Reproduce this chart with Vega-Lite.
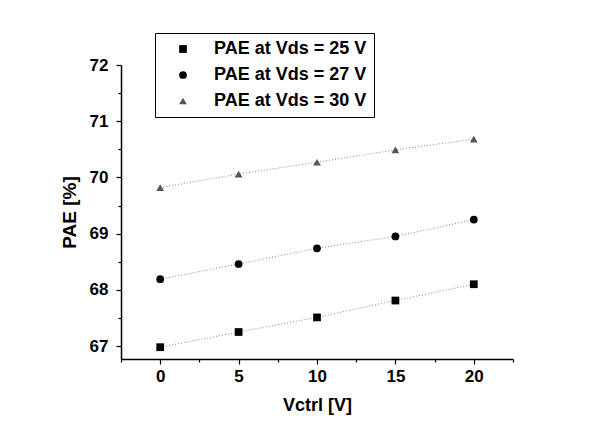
{
  "$schema": "https://vega.github.io/schema/vega-lite/v6.json",
  "width": 392,
  "height": 294,
  "autosize": {"type": "none"},
  "padding": {"left": 121, "top": 65, "right": 86, "bottom": 71},
  "background": "white",
  "config": {
    "view": {"stroke": null},
    "font": "Liberation Sans",
    "legend": {
      "title": null,
      "orient": "none",
      "legendX": 34,
      "legendY": -32,
      "strokeColor": "black",
      "padding": 7,
      "rowPadding": 8,
      "symbolSize": 60,
      "symbolOffset": 12,
      "labelOffset": 22,
      "labelFontSize": 18,
      "labelFontWeight": "bold",
      "labelColor": "black",
      "labelLimit": 300
    }
  },
  "data": {
    "values": [
      {"v": 0, "pae": 66.98, "s": "PAE at Vds = 25 V"},
      {"v": 5, "pae": 67.25, "s": "PAE at Vds = 25 V"},
      {"v": 10, "pae": 67.51, "s": "PAE at Vds = 25 V"},
      {"v": 15, "pae": 67.81, "s": "PAE at Vds = 25 V"},
      {"v": 20, "pae": 68.10, "s": "PAE at Vds = 25 V"},
      {"v": 0, "pae": 68.19, "s": "PAE at Vds = 27 V"},
      {"v": 5, "pae": 68.46, "s": "PAE at Vds = 27 V"},
      {"v": 10, "pae": 68.74, "s": "PAE at Vds = 27 V"},
      {"v": 15, "pae": 68.95, "s": "PAE at Vds = 27 V"},
      {"v": 20, "pae": 69.25, "s": "PAE at Vds = 27 V"},
      {"v": 0, "pae": 69.82, "s": "PAE at Vds = 30 V"},
      {"v": 5, "pae": 70.06, "s": "PAE at Vds = 30 V"},
      {"v": 10, "pae": 70.27, "s": "PAE at Vds = 30 V"},
      {"v": 15, "pae": 70.49, "s": "PAE at Vds = 30 V"},
      {"v": 20, "pae": 70.68, "s": "PAE at Vds = 30 V"}
    ]
  },
  "encoding": {
    "x": {
      "field": "v",
      "type": "quantitative",
      "scale": {"domain": [-2.5, 22.5], "nice": false, "zero": false},
      "axis": {
        "title": "Vctrl [V]",
        "values": [-2.5, 0, 2.5, 5, 7.5, 10, 12.5, 15, 17.5, 20, 22.5],
        "labelExpr": "datum.value % 5 === 0 ? format(datum.value, 'd') : ''",
        "grid": false,
        "domainColor": "black",
        "domainWidth": 1.5,
        "tickColor": "black",
        "tickWidth": 1.2,
        "tickSize": {"condition": {"test": "datum.value % 5 !== 0", "value": 3}, "value": 5},
        "labelFontSize": 17,
        "labelFontWeight": "bold",
        "labelColor": "black",
        "labelPadding": 4,
        "titleFontSize": 18,
        "titleFontWeight": "bold",
        "titleColor": "black",
        "titlePadding": 12
      }
    },
    "y": {
      "field": "pae",
      "type": "quantitative",
      "scale": {"domain": [66.77, 72], "nice": false, "zero": false},
      "axis": {
        "title": "PAE [%]",
        "values": [67, 67.5, 68, 68.5, 69, 69.5, 70, 70.5, 71, 71.5, 72],
        "labelExpr": "datum.value % 1 === 0 ? format(datum.value, 'd') : ''",
        "grid": false,
        "domainColor": "black",
        "domainWidth": 1.5,
        "tickColor": "black",
        "tickWidth": 1.2,
        "tickSize": {"condition": {"test": "datum.value % 1 !== 0", "value": 3}, "value": 5},
        "labelFontSize": 17,
        "labelFontWeight": "bold",
        "labelColor": "black",
        "labelPadding": 8,
        "titleFontSize": 19,
        "titleFontWeight": "bold",
        "titleColor": "black",
        "titlePadding": 10
      }
    }
  },
  "layer": [
    {
      "mark": {"type": "line", "strokeDash": [1, 2], "strokeWidth": 1, "color": "#888888"},
      "encoding": {"detail": {"field": "s"}}
    },
    {
      "mark": {"type": "point", "filled": true, "opacity": 1, "size": 60},
      "encoding": {
        "shape": {
          "field": "s",
          "type": "nominal",
          "scale": {
            "domain": ["PAE at Vds = 25 V", "PAE at Vds = 27 V", "PAE at Vds = 30 V"],
            "range": ["square", "circle", "triangle-up"]
          }
        },
        "color": {
          "field": "s",
          "type": "nominal",
          "scale": {
            "domain": ["PAE at Vds = 25 V", "PAE at Vds = 27 V", "PAE at Vds = 30 V"],
            "range": ["black", "black", "#555555"]
          }
        }
      }
    }
  ]
}
